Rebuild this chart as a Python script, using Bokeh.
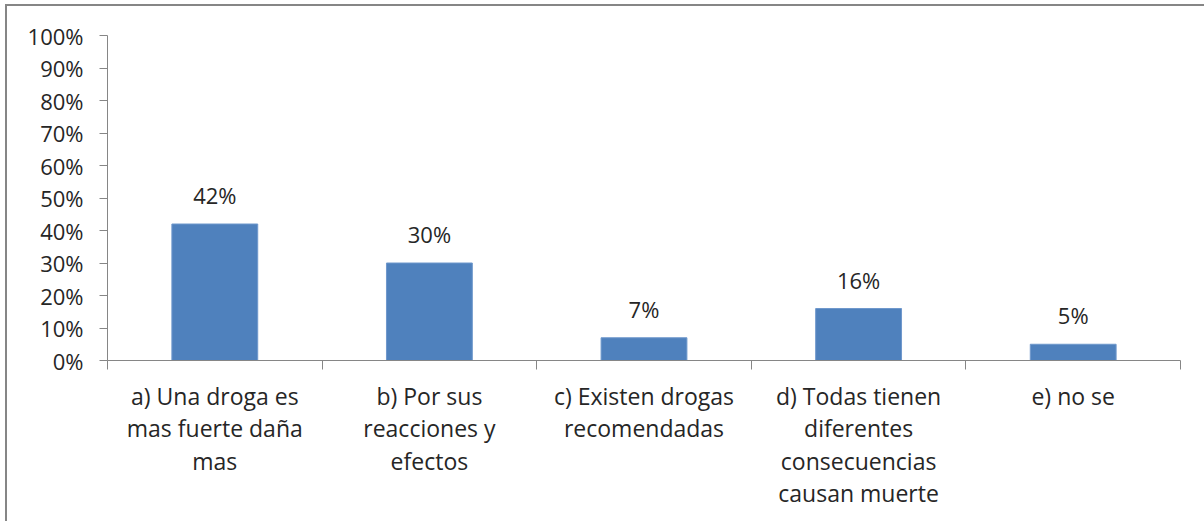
from bokeh.plotting import figure
from bokeh.models import ColumnDataSource, FixedTicker, NumeralTickFormatter
from bokeh.core.properties import value
from bokeh.embed import file_html
from bokeh.resources import INLINE

categories = [
    "a) Una droga es\nmas fuerte daña\nmas",
    "b) Por sus\nreacciones y\nefectos",
    "c) Existen drogas\nrecomendadas",
    "d) Todas tienen\ndiferentes\nconsecuencias\ncausan muerte",
    "e) no se",
]
percent = [42, 30, 7, 16, 5]
y_ticks = [0, 10, 20, 30, 40, 50, 60, 70, 80, 90, 100]

FONT = "Open Sans"
TEXT = "#262626"
AXIS = "#868686"
BAR = "#4F81BD"

xs = [i + 0.5 for i in range(len(categories))]
src = ColumnDataSource(dict(
    x=xs,
    top=[v / 100 for v in percent],
    label=[f"{v}%" for v in percent],
))

p = figure(
    width=1199, height=517,
    x_range=(0, len(categories)), y_range=(0, 1),
    output_backend="svg", toolbar_location=None,
    min_border_left=100, min_border_right=26,
    min_border_top=29, min_border_bottom=163,
)
p.margin = (4, 0, 0, 5)
p.styles = {"border-top": f"2px solid {AXIS}", "border-left": f"2px solid {AXIS}",
            "box-sizing": "border-box"}
p.outline_line_color = None
p.grid.visible = False
p.background_fill_color = "white"
p.border_fill_color = "white"

p.vbar(x="x", top="top", width=0.4, bottom=0, source=src,
       fill_color=BAR, line_color="#6f98cc", line_width=1)

p.text(x="x", y="top", text="label", source=src,
       text_align="center", text_baseline="bottom", y_offset=-14,
       text_font=value(FONT), text_font_size="22px", text_color=TEXT)

# x axis: category labels at bar centres, separator marks at boundaries
xa = p.xaxis[0]
xa.ticker = FixedTicker(ticks=xs, minor_ticks=list(range(len(categories) + 1)))
xa.major_label_overrides = {x: c for x, c in zip(xs, categories)}
xa.major_tick_out = 0
xa.major_tick_in = 0
xa.minor_tick_out = 9
xa.minor_tick_in = 0
xa.minor_tick_line_color = AXIS
xa.axis_line_color = AXIS
xa.major_label_standoff = 10
xa.major_label_text_font = FONT
xa.major_label_text_font_size = "23px"
xa.major_label_text_color = TEXT
xa.major_label_text_line_height = 1.02

ya = p.yaxis[0]
ya.ticker = FixedTicker(ticks=[t / 100 for t in y_ticks])
ya.formatter = NumeralTickFormatter(format="0%")
ya.major_tick_out = 8
ya.major_tick_in = 0
ya.minor_tick_line_color = None
ya.major_tick_line_color = AXIS
ya.axis_line_color = AXIS
ya.major_label_standoff = 16
ya.major_label_text_font = FONT
ya.major_label_text_font_size = "22px"
ya.major_label_text_color = TEXT

open("out.html", "w").write(file_html(p, INLINE))
